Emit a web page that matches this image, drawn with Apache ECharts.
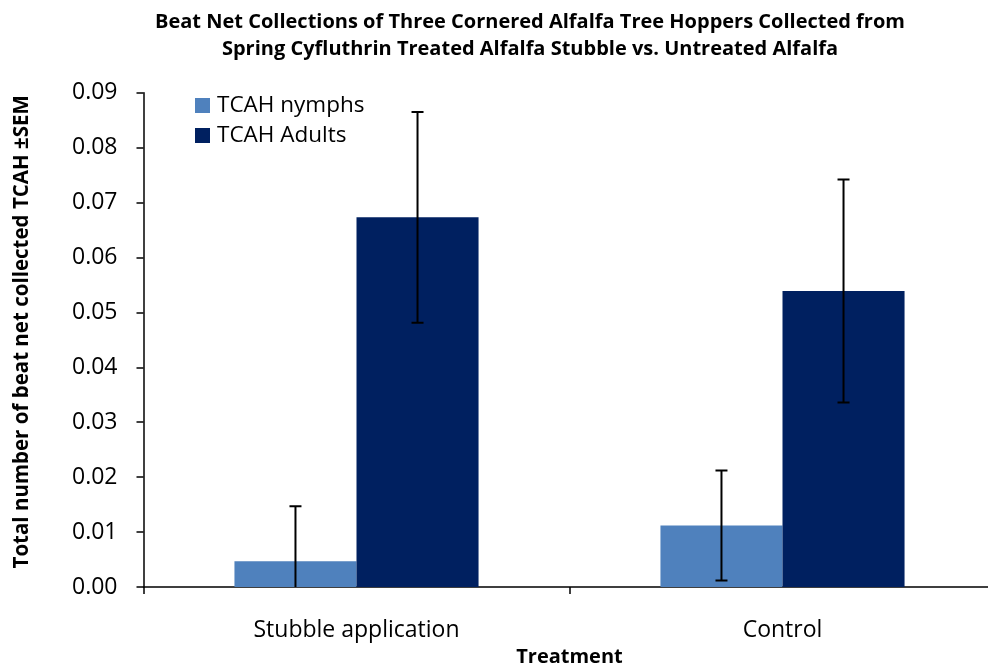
<!DOCTYPE html>
<html>
<head>
<meta charset="utf-8">
<script src="https://cdn.jsdelivr.net/npm/echarts@6/dist/echarts.min.js"></script>
<style>
  html, body { margin: 0; padding: 0; background: #ffffff; }
  #chart { width: 988px; height: 671px; }
</style>
</head>
<body>
<div id="chart"></div>
<script>
// Treatments on the x axis
const treatments = ['Stubble application', 'Control'];
// Mean beat-net counts per sweep
const nymphMean = [0.0047, 0.0112];
const adultMean = [0.0673, 0.0539];
// Standard error of the mean
const nymphSEM = [0.0100, 0.0100];
const adultSEM = [0.0192, 0.0203];
// Value-axis ticks
const yTicks = [0.00, 0.01, 0.02, 0.03, 0.04, 0.05, 0.06, 0.07, 0.08, 0.09];

const NYMPH_COLOR = '#4F81BD';
const ADULT_COLOR = '#002060';
const CAT_GAP = 0.427;          // fraction of a category left empty
const FONT = '"Open Sans", "Liberation Sans", sans-serif';

const chart = echarts.init(document.getElementById('chart'), null, { renderer: 'canvas' });

// Error-bar renderer: one whisker per bar, shifted to the bar's centre within its category
function errorBars(sign) {
  return function (params, api) {
    const cat = api.value(0);
    const mean = api.value(1);
    const sem = api.value(2);
    const band = api.size([1, 0])[0];
    const barW = band * (1 - CAT_GAP) / 2;
    const cx = api.coord([cat, mean])[0] + sign * barW / 2;
    const yTop = api.coord([cat, mean + sem])[1];
    const yBot = api.coord([cat, mean - sem])[1];
    const cap = 6;
    const style = { stroke: '#000', lineWidth: 2 };
    return {
      type: 'group',
      children: [
        { type: 'line', shape: { x1: cx, y1: yTop, x2: cx, y2: yBot }, style },
        { type: 'line', shape: { x1: cx - cap, y1: yTop, x2: cx + cap, y2: yTop }, style },
        { type: 'line', shape: { x1: cx - cap, y1: yBot, x2: cx + cap, y2: yBot }, style }
      ]
    };
  };
}

const option = {
  backgroundColor: '#ffffff',
  animation: false,
  title: {
    text: 'Beat Net Collections of Three Cornered Alfalfa Tree Hoppers Collected from\nSpring Cyfluthrin Treated Alfalfa Stubble vs. Untreated Alfalfa',
    left: 525,
    top: 4,
    textAlign: 'center',
    textStyle: { fontFamily: FONT, fontSize: 20, fontWeight: 'bold', color: '#000', lineHeight: 27 }
  },
  legend: {
    left: 190,
    top: 89,
    orient: 'vertical',
    itemWidth: 15,
    itemHeight: 15,
    itemGap: 7,
    icon: 'rect',
    textStyle: { fontFamily: FONT, fontSize: 22.5, color: '#000', lineHeight: 20, padding: [0, 0, 0, 2] },
    data: ['TCAH nymphs', 'TCAH Adults']
  },
  grid: { left: 143.5, top: 92.7, width: 852, height: 494.3, containLabel: false, outerBoundsMode: 'none' },
  xAxis: {
    type: 'category',
    data: treatments,
    name: 'Treatment',
    nameLocation: 'middle',
    nameGap: 57,
    nameTextStyle: { fontFamily: FONT, fontSize: 20, fontWeight: 'bold', color: '#000' },
    axisLine: { lineStyle: { color: '#000', width: 1.5 } },
    axisTick: { show: true, length: 7, lineStyle: { color: '#000', width: 1.5 } },
    axisLabel: { fontFamily: FONT, fontSize: 23, color: '#000', margin: 32 }
  },
  yAxis: {
    type: 'value',
    min: 0,
    max: 0.09,
    interval: 0.01,
    name: 'Total number of beat net collected TCAH \u00B1SEM',
    nameLocation: 'middle',
    nameGap: 111,
    nameTextStyle: { fontFamily: FONT, fontSize: 20.5, fontWeight: 'bold', color: '#000', padding: [0, 0, 0, 16] },
    axisLine: { show: true, lineStyle: { color: '#000', width: 1.5 } },
    axisTick: { show: true, length: 7, lineStyle: { color: '#000', width: 1.5 } },
    splitLine: { show: false },
    axisLabel: {
      fontFamily: FONT, fontSize: 23, color: '#000', margin: 26,
      formatter: v => yTicks.find(t => Math.abs(t - v) < 1e-9) !== undefined ? v.toFixed(2) : ''
    }
  },
  series: [
    {
      name: 'TCAH nymphs',
      type: 'bar',
      data: nymphMean,
      barGap: '0%',
      barCategoryGap: (CAT_GAP * 100) + '%',
      itemStyle: { color: NYMPH_COLOR }
    },
    {
      name: 'TCAH Adults',
      type: 'bar',
      data: adultMean,
      barGap: '0%',
      barCategoryGap: (CAT_GAP * 100) + '%',
      itemStyle: { color: ADULT_COLOR }
    },
    {
      type: 'custom',
      renderItem: errorBars(-1),
      clip: true,
      z: 10,
      encode: { x: 0, y: 1 },
      data: treatments.map((t, i) => [i, nymphMean[i], nymphSEM[i]])
    },
    {
      type: 'custom',
      renderItem: errorBars(1),
      clip: true,
      z: 10,
      encode: { x: 0, y: 1 },
      data: treatments.map((t, i) => [i, adultMean[i], adultSEM[i]])
    }
  ]
};

chart.setOption(option);
</script>
</body>
</html>
